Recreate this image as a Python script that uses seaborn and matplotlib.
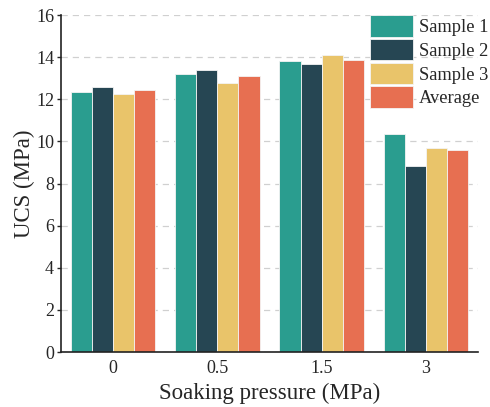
import matplotlib
matplotlib.use("Agg")
import matplotlib.pyplot as plt
import seaborn as sns
import pandas as pd

pressures = ["0", "0.5", "1.5", "3"]
series_names = ["Sample 1", "Sample 2", "Sample 3", "Average"]
sample1 = [12.33, 13.20, 13.83, 10.35]
sample2 = [12.60, 13.37, 13.69, 8.82]
sample3 = [12.27, 12.76, 14.10, 9.67]
average = [12.42, 13.12, 13.88, 9.60]
colors = ["#2a9d8f", "#264653", "#e9c46a", "#e76f51"]

rows = []
for name, vals in zip(series_names, [sample1, sample2, sample3, average]):
    for p, v in zip(pressures, vals):
        rows.append({"pressure": p, "series": name, "ucs": v})
df = pd.DataFrame(rows)

sns.set_style("ticks")
plt.rcParams["font.family"] = ["Liberation Serif", "DejaVu Serif"]

fig = plt.figure(figsize=(4.9, 4.07), dpi=100)
ax = fig.add_axes([0.1245, 0.135, 0.851, 0.828])

sns.barplot(data=df, x="pressure", y="ucs", hue="series", order=pressures,
            hue_order=series_names, palette=colors, width=0.81, saturation=1,
            edgecolor="#f4f4f4", linewidth=0.6, ax=ax, zorder=2)

ax.set_ylim(0, 16)
ax.set_xlim(-0.5, 3.5)
ax.set_yticks(range(0, 17, 2))
ax.yaxis.grid(True, linestyle=(0, (5, 4)), color="#d0d0d0", linewidth=0.9, zorder=0)
ax.set_axisbelow(True)
for s in ["top", "right"]:
    ax.spines[s].set_visible(False)
for s in ["left", "bottom"]:
    ax.spines[s].set_color("#222222")
    ax.spines[s].set_linewidth(1.2)
ax.tick_params(axis="y", direction="out", length=3, width=1, labelsize=13, pad=2)
ax.tick_params(axis="x", length=0, labelsize=13, pad=6)
ax.set_xlabel("Soaking pressure (MPa)", fontsize=16.5, labelpad=4)
ax.set_ylabel("UCS (MPa)", fontsize=16.5, labelpad=1)

handles, labels = ax.get_legend_handles_labels()
ax.legend(handles, labels, loc="upper left", bbox_to_anchor=(370/490, 1 - 15/407),
          bbox_transform=fig.transFigure, frameon=False, fontsize=13.3,
          handlelength=2.35, handleheight=1.42, labelspacing=0.12,
          handletextpad=0.3, borderaxespad=0, borderpad=0)

fig.savefig("out.png", dpi=100)
